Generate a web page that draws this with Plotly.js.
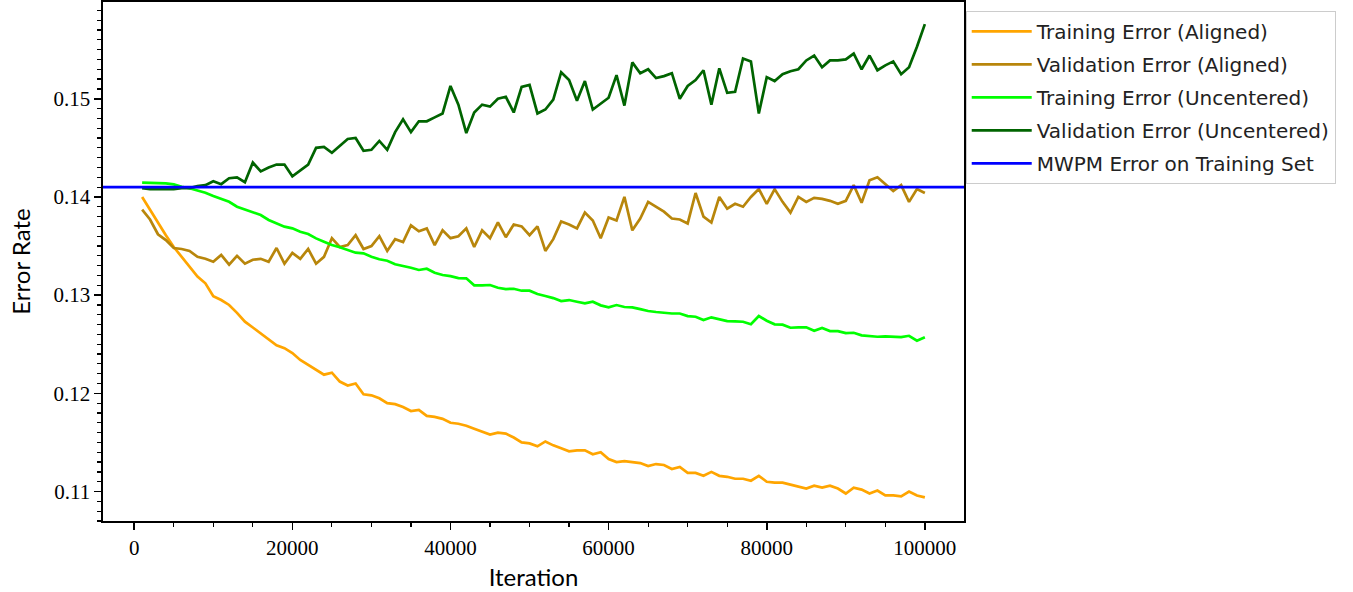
<!DOCTYPE html>
<html>
<head>
<meta charset="utf-8">
<script src="https://cdn.plot.ly/plotly-3.0.1.min.js"></script>
<style>html,body{margin:0;padding:0;background:#fff;}#chart{width:1353px;height:592px;}</style>
</head>
<body>
<div id="chart"></div>
<script>
// Iterations 1000..100000 (step 1000)
const iterations = [1000,2000,3000,4000,5000,6000,7000,8000,9000,10000,11000,12000,13000,14000,15000,16000,17000,18000,19000,20000,21000,22000,23000,24000,25000,26000,27000,28000,29000,30000,31000,32000,33000,34000,35000,36000,37000,38000,39000,40000,41000,42000,43000,44000,45000,46000,47000,48000,49000,50000,51000,52000,53000,54000,55000,56000,57000,58000,59000,60000,61000,62000,63000,64000,65000,66000,67000,68000,69000,70000,71000,72000,73000,74000,75000,76000,77000,78000,79000,80000,81000,82000,83000,84000,85000,86000,87000,88000,89000,90000,91000,92000,93000,94000,95000,96000,97000,98000,99000,100000];

const trainAligned = [0.1400,0.1387,0.1373,0.1361,0.1349,0.1339,0.1329,0.1319,0.1312,0.1299,0.1295,0.1290,0.1282,0.1273,0.1267,0.1261,0.1255,0.1249,0.1246,0.1241,0.1234,0.1229,0.1224,0.1219,0.1221,0.1212,0.1208,0.1210,0.1199,0.1198,0.1195,0.1190,0.1189,0.1186,0.1182,0.1183,0.1177,0.1176,0.1174,0.1170,0.1169,0.1167,0.1164,0.1161,0.1158,0.1160,0.1159,0.1155,0.1150,0.1149,0.1146,0.1151,0.1147,0.1144,0.1141,0.1142,0.1142,0.1138,0.1140,0.1133,0.1130,0.1131,0.1130,0.1129,0.1126,0.1128,0.1127,0.1123,0.1125,0.1119,0.1119,0.1116,0.1120,0.1116,0.1115,0.1113,0.1113,0.1111,0.1116,0.1110,0.1109,0.1109,0.1107,0.1105,0.1103,0.1106,0.1104,0.1106,0.1103,0.1098,0.1104,0.1102,0.1098,0.1101,0.1096,0.1096,0.1095,0.1100,0.1096,0.1094];

const validAligned = [0.1387,0.1377,0.1362,0.1356,0.1348,0.1347,0.1345,0.1339,0.1337,0.1334,0.1341,0.1331,0.1340,0.1332,0.1336,0.1337,0.1334,0.1348,0.1332,0.1343,0.1337,0.1347,0.1332,0.1339,0.1358,0.1349,0.1351,0.1361,0.1347,0.1350,0.1360,0.1345,0.1357,0.1354,0.1371,0.1365,0.1368,0.1351,0.1366,0.1358,0.1360,0.1368,0.1349,0.1366,0.1358,0.1374,0.1359,0.1372,0.1370,0.1361,0.1370,0.1345,0.1357,0.1375,0.1372,0.1368,0.1384,0.1376,0.1358,0.1379,0.1376,0.1400,0.1366,0.1378,0.1395,0.1390,0.1385,0.1378,0.1377,0.1373,0.1404,0.1380,0.1374,0.1400,0.1388,0.1393,0.1390,0.1400,0.1408,0.1393,0.1408,0.1395,0.1384,0.1400,0.1395,0.1399,0.1398,0.1396,0.1393,0.1396,0.1412,0.1394,0.1417,0.1420,0.1413,0.1406,0.1412,0.1395,0.1408,0.1404];

const trainUncentered = [0.14145,0.14145,0.14145,0.14138,0.14128,0.14104,0.14088,0.14063,0.14043,0.14009,0.13979,0.13951,0.13900,0.13874,0.13849,0.13816,0.13765,0.13731,0.13697,0.13680,0.13646,0.13622,0.13578,0.13544,0.13510,0.13487,0.13459,0.13432,0.13426,0.13391,0.13365,0.13350,0.13315,0.13299,0.13279,0.13256,0.13269,0.13228,0.13205,0.13194,0.13174,0.13171,0.13100,0.13100,0.13103,0.13075,0.13062,0.13065,0.13045,0.13045,0.13011,0.12991,0.12970,0.12940,0.12950,0.12933,0.12916,0.12933,0.12896,0.12876,0.12899,0.12879,0.12876,0.12858,0.12838,0.12828,0.12818,0.12813,0.12813,0.12787,0.12780,0.12746,0.12774,0.12757,0.12736,0.12733,0.12729,0.12703,0.12787,0.12739,0.12703,0.12699,0.12668,0.12672,0.12672,0.12637,0.12665,0.12634,0.12634,0.12614,0.12617,0.12591,0.12580,0.12576,0.12580,0.12580,0.12573,0.12586,0.12536,0.12571];

const validUncentered = [0.1409,0.1408,0.1408,0.1408,0.1408,0.1409,0.1409,0.1411,0.1412,0.1416,0.1413,0.1419,0.1420,0.1415,0.1435,0.1426,0.1430,0.1433,0.1433,0.1421,0.1427,0.1433,0.1450,0.1451,0.1445,0.1452,0.1459,0.1460,0.1447,0.1448,0.1457,0.1448,0.1466,0.1479,0.1466,0.1477,0.1477,0.1481,0.1485,0.1513,0.1494,0.1465,0.1486,0.1494,0.1492,0.1500,0.1502,0.1486,0.1512,0.1514,0.1485,0.1489,0.1499,0.1527,0.1519,0.1498,0.1518,0.1489,0.1495,0.1501,0.1524,0.1493,0.1537,0.1526,0.1530,0.1521,0.1523,0.1526,0.1500,0.1513,0.1519,0.1529,0.1494,0.1531,0.1506,0.1507,0.1541,0.1538,0.1485,0.1522,0.1518,0.1525,0.1528,0.1530,0.1539,0.1544,0.1532,0.1539,0.1539,0.1540,0.1546,0.1530,0.1544,0.1529,0.1534,0.1538,0.1525,0.1532,0.1553,0.1576];

const mwpmError = 0.1410;

const seriesNames = ["Training Error (Aligned)","Validation Error (Aligned)","Training Error (Uncentered)","Validation Error (Uncentered)","MWPM Error on Training Set"];
const xTicks = [0,20000,40000,60000,80000,100000];
const yTicks = [0.11,0.12,0.13,0.14,0.15];
const xRange = [-3950, 104950];
const yRange = [0.1070, 0.15985];

const colors = ["#FFA500","#B8860B","#00FF00","#006400","#0000FF"];
const lw = 2.7;

const traces = [
  {x: iterations, y: trainAligned, name: seriesNames[0], color: colors[0]},
  {x: iterations, y: validAligned, name: seriesNames[1], color: colors[1]},
  {x: iterations, y: trainUncentered, name: seriesNames[2], color: colors[2]},
  {x: iterations, y: validUncentered, name: seriesNames[3], color: colors[3]},
  {x: xRange, y: [mwpmError, mwpmError], name: seriesNames[4], color: colors[4]}
].map((t, i) => ({
  type: 'scatter', mode: 'lines', x: t.x, y: t.y, name: t.name,
  legendgroup: 'g' + i,
  line: {color: t.color, width: lw},
  hoverinfo: 'skip'
}));

const tickFont = {family: '"Liberation Serif", "DejaVu Serif", serif', size: 21, color: '#000'};
const titleFont = {family: 'Lato, "Noto Sans", sans-serif', size: 24, color: '#000'};

const layout = {
  width: 1353, height: 592,
  margin: {l: 103, r: 389, t: 2, b: 71, pad: 0},
  paper_bgcolor: '#fff', plot_bgcolor: '#fff',
  showlegend: true,
  legend: {
    x: 1.002, y: 0.983, xanchor: 'left', yanchor: 'top',
    bgcolor: 'rgba(255,255,255,0.8)', bordercolor: '#cccccc', borderwidth: 1,
    font: {family: '"DejaVu Sans", sans-serif', size: 20, color: '#222'},
    itemwidth: 60, tracegroupgap: 4, traceorder: 'grouped'
  },
  xaxis: {
    range: xRange, tickvals: xTicks, tickformat: 'd',
    ticks: 'outside', ticklen: 7, tickwidth: 1.6, tickcolor: '#000',
    showline: true, linewidth: 1.6, linecolor: '#000', mirror: true,
    showgrid: false, zeroline: false, tickfont: tickFont,
    minor: {dtick: 5000, tick0: 0, ticks: 'outside', ticklen: 4, tickwidth: 1.2, tickcolor: '#000', showgrid: false},
    title: {text: 'Iteration', font: titleFont, standoff: 10}
  },
  yaxis: {
    range: yRange, tickvals: yTicks, tickformat: '.2f',
    ticks: 'outside', ticklen: 7, tickwidth: 1.6, tickcolor: '#000',
    showline: true, linewidth: 1.6, linecolor: '#000', mirror: true,
    showgrid: false, zeroline: false, tickfont: tickFont,
    minor: {dtick: 0.001, tick0: 0.11, ticks: 'outside', ticklen: 4, tickwidth: 1.2, tickcolor: '#000', showgrid: false},
    title: {text: 'Error Rate', font: titleFont, standoff: 16}
  }
};

Plotly.newPlot('chart', traces, layout, {staticPlot: true, displayModeBar: false});
</script>
</body>
</html>
